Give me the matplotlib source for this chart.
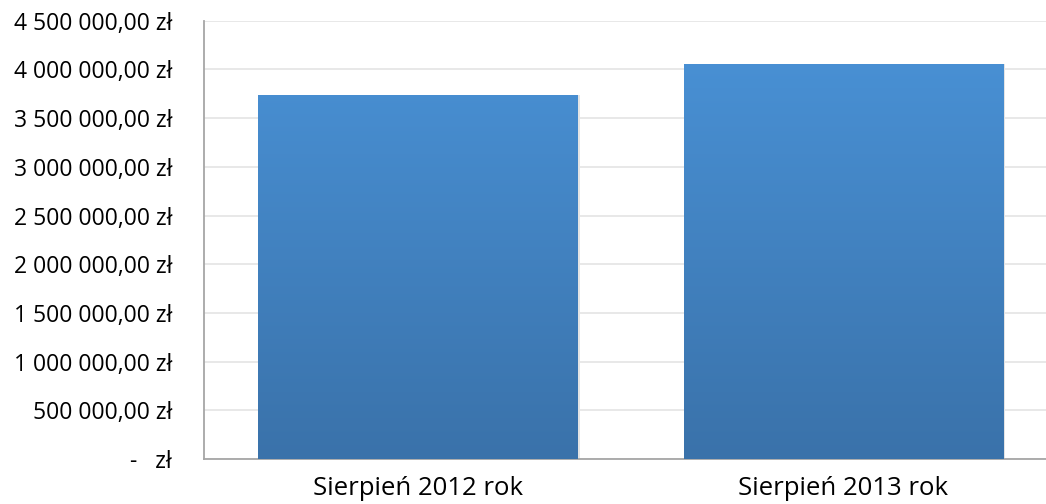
import matplotlib.pyplot as plt
import numpy as np
from matplotlib.colors import LinearSegmentedColormap
from matplotlib.ticker import FuncFormatter

plt.rcParams['font.family'] = ['Open Sans', 'DejaVu Sans']

categories = ['Sierpień 2012 rok', 'Sierpień 2013 rok']
values = [3737000, 4055000]
yticks = [0, 500000, 1000000, 1500000, 2000000, 2500000, 3000000, 3500000, 4000000, 4500000]


def zl(v, pos=None):
    if v == 0:
        return '-   zł'
    s = '{:,.2f}'.format(v).replace(',', ' ').replace('.', ',')
    return s + ' zł'


fig = plt.figure(figsize=(10.46, 5.04), dpi=100)
ax = fig.add_axes([204 / 1046, 45 / 504, 842 / 1046, 438.2 / 504])

x = np.arange(len(categories))
width = 0.75

# cień
ax.bar(x + 0.006, values, width=width, color='#e4e4e4', zorder=2)
bars = ax.bar(x, values, width=width, color='#4a90d6', zorder=3)

grad = LinearSegmentedColormap.from_list('g', ['#3a72aa', '#4a93d8'])
for b in bars:
    x0, y0 = b.get_x(), b.get_y()
    im = ax.imshow(np.linspace(0, 1, 256).reshape(-1, 1), cmap=grad, origin='lower',
                   aspect='auto', extent=[x0, x0 + b.get_width(), 0, 4500000], zorder=4)
    im.set_clip_path(b)

ax.set_xlim(-0.502, 1.477)
ax.set_ylim(0, 4500000)
ax.set_yticks(yticks)
ax.yaxis.set_major_formatter(FuncFormatter(zl))
ax.set_xticks(x)
ax.set_xticklabels(categories, fontsize=18.5)
ax.tick_params(axis='y', length=0, pad=23, labelsize=16.5)
ax.tick_params(axis='x', length=0, pad=12)
ax.grid(axis='y', color='#e6e6e6', linewidth=1.3, zorder=0)
ax.set_axisbelow(True)
for s in ['top', 'right']:
    ax.spines[s].set_visible(False)
ax.spines['left'].set_color('#a6a6a6')
ax.spines['bottom'].set_color('#a6a6a6')
ax.spines['left'].set_linewidth(1.3)
ax.spines['bottom'].set_linewidth(1.3)

fig.savefig('out.png', dpi=100)
